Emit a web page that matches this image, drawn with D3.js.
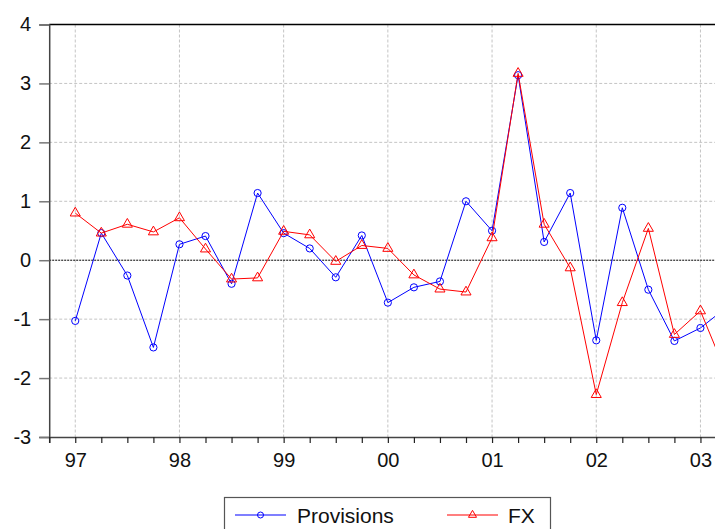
<!DOCTYPE html>
<html>
<head>
<meta charset="utf-8">
<script src="https://cdn.jsdelivr.net/npm/d3@7"></script>
<style>
  html, body { margin: 0; padding: 0; background: #fff; }
  svg { display: block; font-family: "Liberation Sans", Arial, sans-serif; }
</style>
</head>
<body>
<svg id="chart"></svg>
<script>
// quarterly observations, 1997Q1 .. 2003Q2
const quarters = ["97Q1","97Q2","97Q3","97Q4","98Q1","98Q2","98Q3","98Q4",
  "99Q1","99Q2","99Q3","99Q4","00Q1","00Q2","00Q3","00Q4",
  "01Q1","01Q2","01Q3","01Q4","02Q1","02Q2","02Q3","02Q4","03Q1","03Q2"];
const provisions = [-1.03, 0.46, -0.26, -1.48, 0.27, 0.41, -0.40, 1.14,
  0.46, 0.20, -0.29, 0.42, -0.72, -0.46, -0.36, 1.00,
  0.50, 3.14, 0.31, 1.14, -1.36, 0.89, -0.50, -1.37, -1.15, -0.80];
const fx = [0.80, 0.46, 0.61, 0.48, 0.72, 0.19, -0.32, -0.30,
  0.49, 0.43, -0.02, 0.25, 0.20, -0.25, -0.49, -0.54,
  0.38, 3.17, 0.61, -0.13, -2.28, -0.72, 0.54, -1.26, -0.86, -1.93];
const yearLabels = ["97","98","99","00","01","02","03"];
const yTicks = [-3, -2, -1, 0, 1, 2, 3, 4];

const W = 715, H = 529;
const svg = d3.select("#chart").attr("width", W).attr("height", H);

// x as quarter index; plot runs off the right edge of the picture
const x = d3.scaleLinear().domain([-1, 27]).range([49.2, 778.6]);
const y = d3.scaleLinear().domain([-3, 4]).range([437, 24.5]);

const gray = "#c4c4c4";

// horizontal grid
svg.append("g").selectAll("line")
  .data(yTicks.filter(d => d !== 0 && d !== 4 && d !== -3))
  .enter().append("line")
    .attr("x1", x(-1)).attr("x2", W)
    .attr("y1", d => y(d)).attr("y2", d => y(d))
    .attr("stroke", gray).attr("stroke-dasharray", "3,2");

// vertical grid at years
svg.append("g").selectAll("line")
  .data(yearLabels.map((_, i) => i * 4))
  .enter().append("line")
    .attr("x1", d => x(d)).attr("x2", d => x(d))
    .attr("y1", y(4)).attr("y2", y(-3))
    .attr("stroke", gray).attr("stroke-dasharray", "3,2");

// zero line
svg.append("line")
  .attr("x1", x(-1)).attr("x2", W)
  .attr("y1", y(0)).attr("y2", y(0))
  .attr("stroke", "#000").attr("stroke-dasharray", "2,1");

// frame: top border, left and bottom axes
svg.append("line")
  .attr("x1", x(-1)).attr("x2", W).attr("y1", y(4)).attr("y2", y(4))
  .attr("stroke", "#000").attr("stroke-width", 1.3);

const yAxis = d3.axisLeft(y).tickValues(yTicks).tickSize(10).tickPadding(8)
  .tickFormat(d => String(d));
const gy = svg.append("g").attr("transform", `translate(${x(-1)},0)`).call(yAxis);
gy.select(".domain").attr("stroke", "#444").attr("stroke-width", 1.5);
gy.selectAll(".tick line").attr("stroke", "#777").attr("stroke-width", 1.5);
gy.selectAll("text").attr("font-size", 20).attr("fill", "#111")
  .attr("font-family", "Liberation Sans, Arial, sans-serif");

const qTicks = d3.range(-1, 27);
const xAxis = d3.axisBottom(x).tickValues(qTicks).tickSize(6).tickPadding(10)
  .tickFormat(d => (d >= 0 && d % 4 === 0) ? yearLabels[d / 4] : "");
const gx = svg.append("g").attr("transform", `translate(0,${y(-3)})`).call(xAxis);
gx.select(".domain").attr("stroke", "#444").attr("stroke-width", 1.5);
gx.selectAll(".tick line").attr("stroke", "#222").attr("stroke-width", 1.2);
gx.selectAll("text").attr("font-size", 20).attr("fill", "#111")
  .attr("font-family", "Liberation Sans, Arial, sans-serif");

// series
const series = [
  { name: "Provisions", values: provisions, color: "#0000ff", marker: "circle" },
  { name: "FX", values: fx, color: "#ff0000", marker: "triangle" }
];

const line = d3.line().x((d, i) => x(i)).y(d => y(d));
const tri = d3.symbol().type(d3.symbolTriangle).size(44);

function drawMarker(g, type, color) {
  if (type === "circle") {
    g.append("circle").attr("r", 3.6)
      .attr("fill", "none").attr("stroke", color).attr("stroke-width", 1);
  } else {
    g.append("path").attr("d", tri)
      .attr("fill", "none").attr("stroke", color).attr("stroke-width", 1);
  }
}

series.forEach(s => {
  svg.append("path").datum(s.values)
    .attr("d", line)
    .attr("fill", "none").attr("stroke", s.color).attr("stroke-width", 1);
  s.values.forEach((v, i) => {
    const g = svg.append("g").attr("transform", `translate(${x(i)},${y(v)})`);
    drawMarker(g, s.marker, s.color);
  });
});

// legend
const leg = svg.append("g");
leg.append("rect")
  .attr("x", 224.5).attr("y", 497.5).attr("width", 326).attr("height", 50)
  .attr("fill", "#fff").attr("stroke", "#555").attr("stroke-width", 1.2);

const legItems = [
  { s: series[0], x0: 235, textX: 297 },
  { s: series[1], x0: 447, textX: 508 }
];
legItems.forEach(it => {
  leg.append("line")
    .attr("x1", it.x0).attr("x2", it.x0 + 51)
    .attr("y1", 515).attr("y2", 515)
    .attr("stroke", it.s.color).attr("stroke-width", 1.1);
  const g = leg.append("g").attr("transform", `translate(${it.x0 + 25.5},515)`);
  if (it.s.marker === "circle") {
    g.append("circle").attr("r", 3).attr("fill", "none")
      .attr("stroke", it.s.color).attr("stroke-width", 1);
  } else {
    g.append("path").attr("d", d3.symbol().type(d3.symbolTriangle).size(28))
      .attr("fill", "none").attr("stroke", it.s.color).attr("stroke-width", 1);
  }
  leg.append("text")
    .attr("x", it.textX).attr("y", 522.5)
    .attr("font-size", 21).attr("fill", "#111")
    .text(it.s.name);
});
</script>
</body>
</html>
